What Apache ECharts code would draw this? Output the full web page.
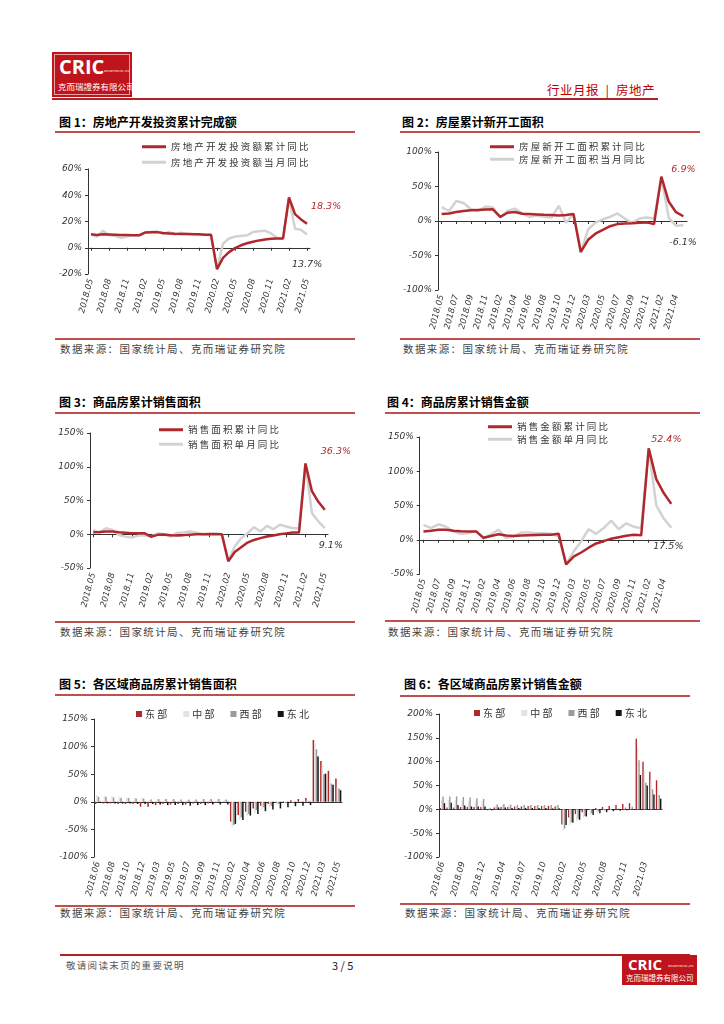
<!DOCTYPE html>
<html><head><meta charset="utf-8">
<script src="https://cdn.jsdelivr.net/npm/echarts/dist/echarts.min.js"></script>
<style>
html,body{margin:0;padding:0;background:#fff;}
#page{position:relative;width:724px;height:1024px;background:#fff;overflow:hidden;font-family:"Noto Sans CJK SC","Noto Sans",sans-serif;}
.a{position:absolute;}
.title{font-weight:bold;font-size:12px;color:#000;white-space:nowrap;line-height:14px;}
.rule{height:1.5px;background:#c0504d;}
.src{font-size:10.5px;color:#444;letter-spacing:1.4px;white-space:nowrap;line-height:12px;}
.chart{position:absolute;}
.logo{background:#c0141c;color:#fff;overflow:hidden;}
</style>
</head><body>
<div id="page">
  <!-- header -->
  <div class="a logo" style="left:52px;top:52px;width:80px;height:45px;">
    <div class="a" style="left:2px;top:2px;width:74px;height:39px;border:1px solid #e8a0a0;"></div>
    <div class="a" style="left:7px;top:3px;font:bold 20px 'Open Sans',sans-serif;line-height:24px;">CRIC</div>
    <div class="a" style="left:52px;top:18px;font-size:6px;line-height:6px;transform:scale(0.45);transform-origin:0 0;white-space:nowrap;">SECURITIES CO.,LTD</div>
    <div class="a" style="left:6px;top:29px;font-size:8.5px;line-height:11px;white-space:nowrap;">克而瑞證券有限公司</div>
  </div>
  <div class="a" style="left:547px;top:83px;font-size:12.5px;line-height:14px;color:#c00000;white-space:nowrap;letter-spacing:0.5px;">行业月报 &nbsp;<span style="color:#333">|</span>&nbsp; 房地产</div>
  <div class="a" style="left:52px;top:98px;width:606px;height:1.5px;background:#b22222;"></div>

  <!-- figure 1 -->
  <div class="a title" style="left:59px;top:115px;">图 1：房地产开发投资累计完成额</div>
  <div class="a rule" style="left:55px;top:131px;width:300px;"></div>
  <div id="c1" class="chart" style="left:55px;top:133px;width:300px;height:204px;"></div>
  <div class="a rule" style="left:55px;top:338px;width:300px;"></div>
  <div class="a src" style="left:60px;top:343px;">数据来源：国家统计局、克而瑞证券研究院</div>

  <!-- figure 2 -->
  <div class="a title" style="left:402px;top:115px;">图 2：房屋累计新开工面积</div>
  <div class="a rule" style="left:400px;top:131px;width:300px;"></div>
  <div id="c2" class="chart" style="left:400px;top:133px;width:300px;height:204px;"></div>
  <div class="a rule" style="left:400px;top:338px;width:300px;"></div>
  <div class="a src" style="left:403px;top:343px;">数据来源：国家统计局、克而瑞证券研究院</div>

  <!-- figure 3 -->
  <div class="a title" style="left:59px;top:395px;">图 3：商品房累计销售面积</div>
  <div class="a rule" style="left:55px;top:412px;width:300px;"></div>
  <div id="c3" class="chart" style="left:55px;top:414px;width:300px;height:206px;"></div>
  <div class="a rule" style="left:55px;top:621px;width:300px;"></div>
  <div class="a src" style="left:60px;top:626px;">数据来源：国家统计局、克而瑞证券研究院</div>

  <!-- figure 4 -->
  <div class="a title" style="left:387px;top:395px;">图 4：商品房累计销售金额</div>
  <div class="a rule" style="left:385px;top:412px;width:315px;"></div>
  <div id="c4" class="chart" style="left:385px;top:414px;width:315px;height:206px;"></div>
  <div class="a rule" style="left:385px;top:620px;width:315px;"></div>
  <div class="a src" style="left:388px;top:626px;">数据来源：国家统计局、克而瑞证券研究院</div>

  <!-- figure 5 -->
  <div class="a title" style="left:59px;top:677px;">图 5：各区域商品房累计销售面积</div>
  <div class="a rule" style="left:55px;top:694px;width:300px;"></div>
  <div id="c5" class="chart" style="left:55px;top:696px;width:300px;height:208px;"></div>
  <div class="a rule" style="left:55px;top:905px;width:300px;"></div>
  <div class="a src" style="left:60px;top:907px;">数据来源：国家统计局、克而瑞证券研究院</div>

  <!-- figure 6 -->
  <div class="a title" style="left:404px;top:677px;">图 6：各区域商品房累计销售金额</div>
  <div class="a rule" style="left:400px;top:695px;width:290px;"></div>
  <div id="c6" class="chart" style="left:400px;top:697px;width:300px;height:206px;"></div>
  <div class="a rule" style="left:400px;top:903px;width:290px;"></div>
  <div class="a src" style="left:405px;top:907px;">数据来源：国家统计局、克而瑞证券研究院</div>

  <!-- footer -->
  <div class="a" style="left:60px;top:954px;width:630px;height:1.5px;background:#b22222;"></div>
  <div class="a" style="left:66px;top:959px;font-size:9.5px;line-height:12px;color:#555;letter-spacing:1.3px;white-space:nowrap;">敬请阅读末页的重要说明</div>
  <div class="a" style="left:332px;top:958px;font-size:11px;line-height:14px;color:#222;white-space:nowrap;">3 / 5</div>
  <div class="a logo" style="left:622px;top:955px;width:75px;height:30px;">
    <div class="a" style="left:6px;top:0px;font:bold 15px 'Open Sans',sans-serif;line-height:19px;">CRIC</div>
    <div class="a" style="left:46px;top:10px;font-size:6px;line-height:6px;transform:scale(0.45);transform-origin:0 0;white-space:nowrap;">SECURITIES CO.,LTD</div>
    <div class="a" style="left:4px;top:18px;font-size:7.5px;line-height:10px;white-space:nowrap;">克而瑞證券有限公司</div>
  </div>
</div>

<script>
// ---------------- categories ----------------
const cats37 = ['2018.05','2018.06','2018.07','2018.08','2018.09','2018.10','2018.11','2018.12',
  '2019.01','2019.02','2019.03','2019.04','2019.05','2019.06','2019.07','2019.08','2019.09','2019.10','2019.11','2019.12',
  '2020.01','2020.02','2020.03','2020.04','2020.05','2020.06','2020.07','2020.08','2020.09','2020.10','2020.11','2020.12',
  '2021.01','2021.02','2021.03','2021.04','2021.05'];
const cats34 = ['2018.05','2018.06','2018.07','2018.08','2018.09','2018.10','2018.11','2018.12',
  '2019.02','2019.03','2019.04','2019.05','2019.06','2019.07','2019.08','2019.09','2019.10','2019.11','2019.12',
  '2020.02','2020.03','2020.04','2020.05','2020.06','2020.07','2020.08','2020.09','2020.10','2020.11','2020.12',
  '2021.02','2021.03','2021.04','2021.05'];
const cats33 = ['2018.06','2018.07','2018.08','2018.09','2018.10','2018.11','2018.12',
  '2019.02','2019.03','2019.04','2019.05','2019.06','2019.07','2019.08','2019.09','2019.10','2019.11','2019.12',
  '2020.02','2020.03','2020.04','2020.05','2020.06','2020.07','2020.08','2020.09','2020.10','2020.11','2020.12',
  '2021.02','2021.03','2021.04','2021.05'];

// ---------------- figure 1: investment ----------------
const invNames = ['房地产开发投资额累计同比','房地产开发投资额当月同比'];
const invCum = [10.2,9.7,10.2,10.1,9.9,9.7,9.7,9.5,
  9.5,11.6,11.8,11.9,11.2,10.9,10.6,10.5,10.5,10.3,10.2,9.9,
  9.9,-16.3,-7.7,-3.3,-0.3,1.9,3.4,4.6,5.6,6.3,6.8,7.0,
  7.0,38.3,25.6,21.6,18.3];
const invMon = [10,8.5,13,9.5,9,7.5,8.5,9.5,
  9.5,11.5,12,12.5,10.5,12,10,11.5,10.5,10.5,10,10,
  9.5,-16.3,3,7,8.5,9,9.5,12,12.5,13,11,7.5,
  7,38.3,14.5,13.7,10];
const invNotes = ['18.3%','13.7%'];

// ---------------- figure 2: new starts ----------------
const startNames = ['房屋新开工面积累计同比','房屋新开工面积当月同比'];
const startCum = [10,11,13,14.5,15.5,16,16.5,17,
  6,12,13,10.5,10,9.5,9,8.6,8,8.6,10,
  -44.9,-27.2,-18.4,-12.8,-7.6,-4.5,-3.6,-3.4,-2.7,-2.0,-4.5,
  64.3,28.2,12.8,6.9];
const startMon = [20,14.5,29,26,17,14.5,21,19.5,
  5,14.5,18,11,6,8,6,5,22,-2.5,11,
  -46,-12,-2.5,2.5,6,11,3.5,-2.5,3.5,5,3.5,
  63,5,-7,-6.1];
const startNotes = ['6.9%','-6.1%'];

// ---------------- figure 3: sales area ----------------
const areaNames = ['销售面积累计同比','销售面积单月同比'];
const areaCum = [2.9,3.3,4.2,4.0,2.9,2.2,1.4,1.3,
  1.3,-3.6,-0.9,-0.3,-1.6,-1.8,-1.3,-0.6,-0.1,0.1,0.2,-0.1,
  -0.1,-39.9,-26.3,-19.3,-12.3,-8.4,-5.8,-3.3,-1.8,0.0,1.3,2.6,
  2.6,104.9,63.8,48.1,36.3];
const areaMon = [6.5,2.5,9,6.5,-1,-3.5,-5,-2,
  -2,-3.5,1.5,0,-3.5,2,2.5,4,2.5,0,0.5,1.5,
  0,-39.9,-18,-6,1.5,10.5,4,12.5,7.5,14,11.5,9,
  9,104.9,31.5,19,9.1];
const areaNotes = ['36.3%','9.1%'];

// ---------------- figure 4: sales amount ----------------
const amtNames = ['销售金额累计同比','销售金额单月同比'];
const amtCum = [12.2,13.2,14.5,14.5,13.3,12.5,12.1,12.2,
  2.8,5.6,8.1,6.1,5.6,6.2,6.7,7.1,7.3,7.3,8.6,
  -35.9,-24.7,-18.6,-11.6,-5.4,-2.1,1.6,3.7,5.8,7.2,6.5,
  133.4,88.5,68.2,52.4];
const amtMon = [21.6,17,22.6,19,12,8.6,9.6,13,
  2.4,8,14.4,2.4,4.8,10.5,10.5,9.6,9.6,8.6,4.8,
  -36,-17,-2.4,15.4,8.6,17,28,15.4,24,19,17,
  133,50.5,31,17.5];
const amtNotes = ['52.4%','17.5%'];

// ---------------- figure 5 / 6: regions ----------------
const regionNames = ['东部','中部','西部','东北'];
const eastArea = [-4,-3,-3,-4,-4,-4,-9,
  -9,-6,-4,-5,-4,-5,-3,-4,-3,-2,-1,
  -36,-24,-18,-12,-7,-4,-2,1,3,5,7,
  112,74,56,42];
const centralArea = [12,11,10,9,8,7,7,
  3,4,4,3,3,3,3,4,4,4,4,
  -45,-33,-25,-20,-14,-10,-6,-3,-1,1,3,
  105,67,42,26];
const westArea = [9,9,8,7,7,6,6,
  4,5,5,5,4,4,4,5,5,5,4,
  -42,-28,-22,-15,-10,-7,-4,-2,-1,0.5,2,
  95,50,33,24];
const neArea = [-2,-3,-3,-3,-3,-4,-4,
  -4,-5,-6,-6,-6,-7,-6,-6,-5,-5,-5,
  -40,-33,-25,-22,-17,-14,-12,-10,-8,-7,-6,
  82,51,31,21];

const eastAmt = [3,4,4,5,5,5,5,
  -2,4,5,5,6,6,7,7,7,7,6,
  -32,-17,-10,-6,-1,3,5,7,9,11,13,
  148,100,79,61];
const centralAmt = [20,20,19,18,18,17,17,
  3,8,9,8,7,7,7,7,7,7,8,
  -45,-33,-25,-18,-12,-7,-4,-2,0,2,4,
  130,80,60,45];
const westAmt = [27,27,27,26,25,23,22,
  3,10,11,10,9,9,9,9,9,9,9,
  -40,-27,-20,-14,-8,-4,-2,0,2,4,6,
  103,56,42,30];
const neAmt = [13,14,9,8,6,6,6,
  -2,4,4,3,3,3,3,3,3,2,2,
  -33,-28,-22,-15,-12,-8,-6,-4,-3,-2,-1,
  72,50,31,22];

// ---------------- style ----------------
const FONT = '"Noto Sans CJK SC","DejaVu Sans",sans-serif';
const RED = '#b0282c';
const GRAY = '#d2d2d2';
const AX = '#333';
const spaced = n => n.split('').join(' ');

function axisLabelStyle(extra){
  return Object.assign({fontSize:9, fontStyle:'italic', color:AX, fontFamily:'"DejaVu Sans",sans-serif'}, extra);
}

function lineChart(id, o){
  const c = echarts.init(document.getElementById(id));
  c.setOption({
    animation:false,
    textStyle:{fontFamily:FONT},
    grid:o.grid,
    legend:{orient:'vertical', left:o.legend[0], top:o.legend[1], itemGap:o.legend[2],
      itemWidth:24, itemHeight:3, icon:'rect', data:o.names,
      formatter:spaced, textStyle:{fontSize:9.5, color:'#333', fontFamily:FONT}},
    xAxis:[
      {type:'category', data:o.cats, position:'bottom',
       axisLine:{show:false, onZero:false}, axisTick:{show:false},
       axisLabel:axisLabelStyle({interval:o.li, rotate:75, margin:5, fontSize:8.5})},
      {type:'category', data:o.cats, position:'bottom',
       axisLine:{show:true, onZero:true, lineStyle:{color:AX, width:1}},
       axisTick:{show:true, interval:o.li, alignWithLabel:true, length:3, lineStyle:{color:AX}},
       axisLabel:{show:false}}
    ],
    yAxis:{type:'value', min:o.y[0], max:o.y[1], interval:o.y[2],
      axisLine:{show:true, lineStyle:{color:AX}}, axisTick:{show:true, length:3, lineStyle:{color:AX}},
      splitLine:{show:false}, axisLabel:axisLabelStyle({formatter:'{value}%', margin:6})},
    series:[
      {name:o.names[1], type:'line', data:o.mon, xAxisIndex:0, symbol:'none', z:2,
       lineStyle:{color:GRAY, width:2.5}, itemStyle:{color:GRAY},
       endLabel:{show:true, formatter:o.notes[1], offset:o.off[1], distance:4,
         fontSize:9.5, fontStyle:'italic', color:'#333', fontFamily:'"DejaVu Sans",sans-serif'}},
      {name:o.names[0], type:'line', data:o.cum, xAxisIndex:0, symbol:'none', z:3,
       lineStyle:{color:RED, width:2.5}, itemStyle:{color:RED},
       endLabel:{show:true, formatter:o.notes[0], offset:o.off[0], distance:4,
         fontSize:9.5, fontStyle:'italic', color:RED, fontFamily:'"DejaVu Sans",sans-serif'}}
    ]
  });
}

function barChart(id, o){
  const c = echarts.init(document.getElementById(id));
  const colors = [RED,'#e3e3e3','#9a9a9a','#151515'];
  c.setOption({
    animation:false,
    textStyle:{fontFamily:FONT},
    grid:o.grid,
    legend:{left:o.legend[0], top:o.legend[1], itemGap:o.legend[2], itemWidth:6, itemHeight:6, icon:'rect',
      data:regionNames, formatter:spaced, textStyle:{fontSize:10, color:'#333', fontFamily:FONT, padding:[0,0,0,-2]}},
    xAxis:[
      {type:'category', data:cats33, position:'bottom',
       axisLine:{show:false, onZero:false}, axisTick:{show:false},
       axisLabel:axisLabelStyle({interval:o.li, rotate:75, margin:5, fontSize:8.5})},
      {type:'category', data:cats33, position:'bottom',
       axisLine:{show:true, onZero:true, lineStyle:{color:AX, width:1}},
       axisTick:{show:false}, axisLabel:{show:false}}
    ],
    yAxis:{type:'value', min:o.y[0], max:o.y[1], interval:o.y[2],
      axisLine:{show:true, lineStyle:{color:AX}}, axisTick:{show:true, length:3, lineStyle:{color:AX}},
      splitLine:{show:false}, axisLabel:axisLabelStyle({formatter:'{value}%', margin:6})},
    series:o.data.map((d,i)=>({name:regionNames[i], type:'bar', data:d, xAxisIndex:0,
      barGap:'0%', barCategoryGap:'18%', itemStyle:{color:colors[i]}}))
  });
}

lineChart('c1', {cats:cats37, li:2, names:invNames, cum:invCum, mon:invMon, notes:invNotes,
  y:[-20,60,20], grid:{left:33, right:45, top:36, bottom:63},
  legend:[82, 4, 6], off:[[0,-17],[-19,30]]});
lineChart('c2', {cats:cats34, li:1, names:startNames, cum:startCum, mon:startMon, notes:startNotes,
  y:[-100,100,50], grid:{left:35, right:13, top:19, bottom:47},
  legend:[85, 4, 3], off:[[-16,-47],[-18,17]]});
lineChart('c3', {cats:cats37, li:2, names:areaNames, cum:areaCum, mon:areaMon, notes:areaNotes,
  y:[-50,150,50], grid:{left:35, right:27, top:19, bottom:52},
  legend:[99, 6, 5], off:[[-8,-58],[-10,17]]});
lineChart('c4', {cats:cats34, li:1, names:amtNames, cum:amtCum, mon:amtMon, notes:amtNotes,
  y:[-50,150,50], grid:{left:33, right:25, top:23, bottom:46},
  legend:[98, 3, 3], off:[[-24,-64],[-22,19]]});
barChart('c5', {li:1, y:[-100,150,50], grid:{left:39, right:13, top:23, bottom:47},
  legend:[76, 8, 16], data:[eastArea, centralArea, westArea, neArea]});
barChart('c6', {li:2, y:[-100,200,50], grid:{left:39, right:38, top:17, bottom:46},
  legend:[69, 6, 16], data:[eastAmt, centralAmt, westAmt, neAmt]});
</script>
</body></html>
